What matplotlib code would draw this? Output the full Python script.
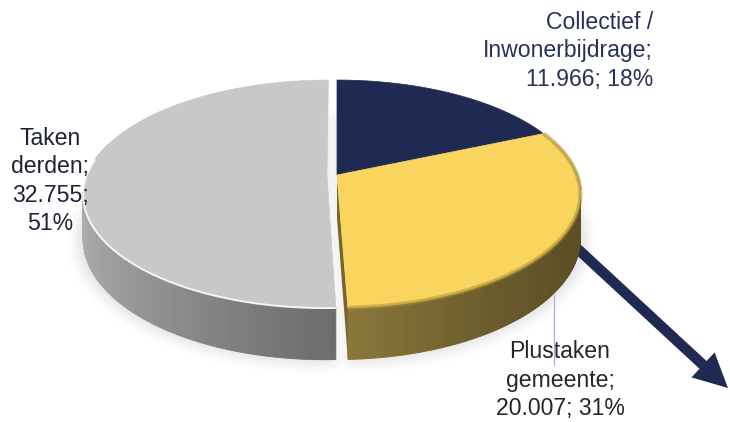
import numpy as np
import matplotlib
matplotlib.use("Agg")
import matplotlib.pyplot as plt
from matplotlib.patches import Polygon
from matplotlib.path import Path

# ---------------- data ----------------
categories = ["Collectief /\nInwonerbijdrage", "Plustaken\ngemeente", "Taken\nderden"]
values = [11966, 20007, 32755]
top_colors = ["#1f2a52", "#f9d560", "#c8c8c8"]
side_light = ["#4a5688", "#f3d068", "#b6b6b6"]
side_dark = ["#10162e", "#5c4f26", "#4a4a4a"]
explode = [0.0, 0.0, 0.042]
label_colors = ["#27315a", "#262626", "#1d2233"]
label_pos = [(653, 51), (560, 380), (50, 181)]
label_ha = ["right", "center", "center"]

# ---------------- geometry ----------------
W, H = 730, 422
CX, CY = 337.0, 175.0
RX, RY = 240.0, 110.8
K = 0.1667
DEPTH = 43.0


def proj(X, Y, z):
    s = 1.0 / (1.0 + K * Y)
    return CX + RX * X * s, CY + (-RY * Y + DEPTH * z) * s


def hex2rgb(h):
    h = h.lstrip("#")
    return np.array([int(h[i:i + 2], 16) / 255 for i in (0, 2, 4)])


total = float(sum(values))
fr = np.array(values) / total
ends = 90 - 360 * np.cumsum(fr)
starts = np.r_[90, ends[:-1]]

fig = plt.figure(figsize=(W / 100, H / 100), dpi=100)
ax = fig.add_axes([0, 0, 1, 1])
ax.set_xlim(0, W)
ax.set_ylim(H, 0)
ax.axis("off")

slices = []
for i, v in enumerate(values):
    a0, a1 = starts[i], ends[i]
    mid = np.radians((a0 + a1) / 2)
    ox, oy = explode[i] * np.cos(mid), explode[i] * np.sin(mid)
    n = max(8, int(abs(a1 - a0) * 2))
    th = np.radians(np.linspace(a0, a1, n))
    slices.append((ox, oy, th))

# ---------------- shadow ----------------
yy, xx = np.mgrid[0:H, 0:W]
pts = np.c_[xx.ravel() + 0.5, yy.ravel() + 0.5]
mask = np.zeros(H * W)
for ox, oy, th in slices:
    poly = [proj(ox, oy, 1.0)] + [proj(ox + 1.03 * np.cos(t), oy + 1.03 * np.sin(t), 1.0) for t in th]
    mask = np.maximum(mask, Path(poly).contains_points(pts).astype(float))
mask = mask.reshape(H, W)
sig = 6.0
kx = np.arange(-20, 21)
g = np.exp(-kx ** 2 / (2 * sig ** 2))
g /= g.sum()
mask = np.apply_along_axis(lambda r: np.convolve(r, g, mode="same"), 1, mask)
mask = np.apply_along_axis(lambda c: np.convolve(c, g, mode="same"), 0, mask)
rgba = np.zeros((H, W, 4))
rgba[..., 3] = 0.11 * mask
ax.imshow(rgba, extent=(0, W, H, 0), origin="upper", zorder=1, interpolation="bilinear")

# ---------------- arrow (decoration) ----------------
def arrow_poly(start, tip, shaft_w, head_w, head_len):
    s = np.array(start, float)
    t = np.array(tip, float)
    d = (t - s) / np.linalg.norm(t - s)
    nrm = np.array([-d[1], d[0]])
    b = t - d * head_len
    return [s + nrm * shaft_w / 2, b + nrm * shaft_w / 2, b + nrm * head_w / 2, t,
            b - nrm * head_w / 2, b - nrm * shaft_w / 2, s - nrm * shaft_w / 2]

ax.add_patch(Polygon(arrow_poly((555, 228), (728, 388), 10.5, 34, 34),
                     closed=True, fc="#1f2a52", ec="none", zorder=2))

# ---------------- sides ----------------
strips = []
for i, (ox, oy, th) in enumerate(slices):
    cl, cd = hex2rgb(side_light[i]), hex2rgb(side_dark[i])
    for t1, t2 in zip(th[:-1], th[1:]):
        tm = (t1 + t2) / 2
        if np.sin(tm) > 0.3:
            continue
        p1 = proj(ox + np.cos(t1), oy + np.sin(t1), 0)
        p2 = proj(ox + np.cos(t2), oy + np.sin(t2), 0)
        p3 = proj(ox + np.cos(t2), oy + np.sin(t2), 1)
        p4 = proj(ox + np.cos(t1), oy + np.sin(t1), 1)
        lt = (np.cos(tm - np.radians(160)) + 1) / 2
        col = cd + lt * (cl - cd)
        strips.append((np.sin(tm), [p1, p2, p3, p4], col))
strips.sort(key=lambda s: -s[0])
for _, q, col in strips:
    ax.add_patch(Polygon(q, closed=True, fc=col, ec=col, lw=0.6, zorder=3))

# cut face of the slice next to the exploded one
ox, oy, th = slices[1]
te = th[-1]
cut = [proj(ox, oy, 0), proj(ox + np.cos(te), oy + np.sin(te), 0),
       proj(ox + np.cos(te), oy + np.sin(te), 1), proj(ox, oy, 1)]
ax.add_patch(Polygon(cut, closed=True, fc="#76652e", ec="none", zorder=4))

# ---------------- tops ----------------
for i, (ox, oy, th) in enumerate(slices):
    poly = [proj(ox, oy, 0)] + [proj(ox + np.cos(t), oy + np.sin(t), 0) for t in th]
    ax.add_patch(Polygon(poly, closed=True, fc=top_colors[i], ec=top_colors[i], lw=0.5, zorder=5))
    if i == 2:
        front = [t for t in th if np.sin(t) < 0.15]
        rim = np.array([proj(ox + np.cos(t), oy + np.sin(t), 0) for t in front])
        ax.plot(rim[:, 0], rim[:, 1], color="white", lw=1.4, alpha=0.85, zorder=6,
                solid_capstyle="butt")
    elif i == 1:
        band = [t for t in th if np.sin(t) < 0.45]
        rim = np.array([proj(ox + np.cos(t), oy + np.sin(t), 0) for t in band])
        ax.plot(rim[:, 0], rim[:, 1], color="#a88c35", lw=3.0, alpha=0.55, zorder=6,
                solid_capstyle="butt")

# ---------------- labels ----------------
for i, v in enumerate(values):
    pct = f"{round(100 * v / total)}%"
    vt = f"{v:,}".replace(",", ".")
    if categories[i].startswith("Taken"):
        txt = f"{categories[i]};\n{vt};\n{pct}"
    else:
        txt = f"{categories[i]};\n{vt}; {pct}"
    x, y = label_pos[i]
    ax.text(x, y, txt, ha=label_ha[i], va="center", multialignment=label_ha[i],
            fontsize=16.6, family="Liberation Sans", color=label_colors[i],
            linespacing=1.3, zorder=8)

# leader line for the yellow label
ax.plot([554, 554], [295, 365], color="#9db3e3", lw=0.9, zorder=9)

fig.savefig("out.png", dpi=100)
